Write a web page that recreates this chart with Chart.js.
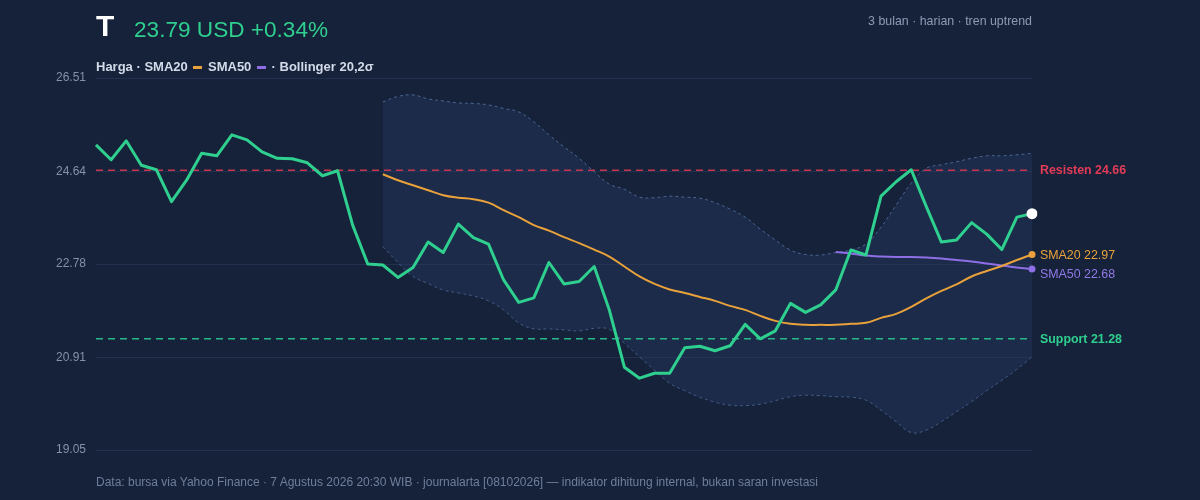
<!DOCTYPE html>
<html>
<head>
<meta charset="utf-8">
<script src="https://cdn.jsdelivr.net/npm/chart.js@4"></script>
<style>
  html, body { margin: 0; padding: 0; background: #16223a; }
  body { width: 1200px; height: 500px; position: relative; overflow: hidden;
         font-family: "Liberation Sans", Arial, Helvetica, sans-serif; }
  #wrap { position: absolute; left: 0; top: 0; width: 1200px; height: 500px; }
  .txt { position: absolute; white-space: nowrap; }
  #ticker { left: 96px; top: 9px; font-size: 30px; font-weight: bold; color: #ffffff; }
  #quote { left: 134px; top: 17px; font-size: 22.6px; color: #2fcf8f; }
  #meta { right: 168px; top: 14px; font-size: 12.4px; color: #8e9bb4; }
  #legend { left: 96px; top: 59px; font-size: 13px; font-weight: bold; color: #d3dbe9; }
  #legend .sw { display: inline-block; width: 9px; height: 3px; vertical-align: middle; margin: 0 2px; }
  #footer { left: 96px; top: 475px; font-size: 12px; color: #6f7f9b; }
  .side { left: 1040px; font-size: 12.4px; transform: translateY(-50%); }
</style>
</head>
<body>
<div id="wrap"><canvas id="chart" width="1200" height="500"></canvas></div>
<div class="txt" id="ticker">T</div>
<div class="txt" id="quote">23.79 USD +0.34%</div>
<div class="txt" id="meta">3 bulan · harian · tren uptrend</div>
<div class="txt" id="legend">Harga · SMA20 <span class="sw" style="background:#e9a23b"></span> SMA50 <span class="sw" style="background:#8e6fe6"></span> · Bollinger 20,2σ</div>
<div class="txt" id="footer">Data: bursa via Yahoo Finance · 7 Agustus 2026 20:30 WIB · journalarta [08102026] — indikator dihitung internal, bukan saran investasi</div>
<div class="txt side" id="lblRes" style="color:#e23b57;font-weight:bold">Resisten 24.66</div>
<div class="txt side" id="lblS20" style="color:#e9a23b">SMA20 22.97</div>
<div class="txt side" id="lblS50" style="color:#9179e8">SMA50 22.68</div>
<div class="txt side" id="lblSup" style="color:#2fcf8f;font-weight:bold">Support 21.28</div>
<script>
// harga penutupan harian (63 hari)
const price = [
  25.17, 24.87, 25.25, 24.76, 24.67, 24.03, 24.46, 25.00, 24.95, 25.37,
  25.27, 25.03, 24.90, 24.89, 24.81, 24.55, 24.65, 23.56, 22.78, 22.76,
  22.51, 22.71, 23.22, 23.01, 23.58, 23.31, 23.18, 22.46, 22.01, 22.10,
  22.81, 22.38, 22.43, 22.73, 21.86, 20.71, 20.49, 20.59, 20.59, 21.10,
  21.13, 21.04, 21.14, 21.57, 21.28, 21.44, 21.99, 21.81, 21.96, 22.26,
  23.06, 22.96, 24.14, 24.43, 24.67, 23.93, 23.22, 23.26, 23.61, 23.38,
  23.07, 23.72, 23.79
];
// SMA20 mulai hari ke-20
const sma20Vals = [
  24.58, 24.46, 24.36, 24.26, 24.16, 24.11, 24.08, 24.01, 23.86, 23.72,
  23.56, 23.45, 23.32, 23.20, 23.07, 22.93, 22.73, 22.53, 22.38, 22.27,
  22.20, 22.12, 22.04, 21.94, 21.86, 21.74, 21.64, 21.58, 21.56, 21.56,
  21.56, 21.58, 21.60, 21.70, 21.78, 21.92, 22.09, 22.24, 22.37, 22.53,
  22.64, 22.74, 22.86, 22.97
];
// SMA50 mulai hari ke-50
const sma50Vals = [
  23.02, 22.99, 22.95, 22.93, 22.92, 22.92, 22.91, 22.89, 22.86, 22.83,
  22.79, 22.75, 22.71, 22.68
];
// Bollinger 20,2σ
const bbUpperVals = [
  26.03, 26.14, 26.17, 26.09, 26.05, 26.01, 26.00, 25.97, 25.90, 25.83,
  25.63, 25.37, 25.13, 24.90, 24.63, 24.38, 24.28, 24.12, 24.11, 24.14,
  24.12, 24.10, 24.01, 23.88, 23.72, 23.48, 23.26, 23.06, 22.97, 22.96,
  23.01, 23.06, 23.18, 23.52, 23.96, 24.40, 24.70, 24.77, 24.83, 24.90,
  24.95, 24.95, 24.97, 25.00
];
const bbLowerVals = [
  23.13, 22.81, 22.53, 22.39, 22.26, 22.20, 22.14, 22.04, 21.86, 21.60,
  21.48, 21.48, 21.46, 21.44, 21.49, 21.47, 21.19, 20.92, 20.65, 20.39,
  20.24, 20.11, 20.01, 19.95, 19.94, 19.97, 20.04, 20.12, 20.15, 20.14,
  20.12, 20.11, 20.05, 19.85, 19.62, 19.40, 19.45, 19.62, 19.82, 20.02,
  20.24, 20.45, 20.67, 20.92
];
const yTicks = [19.05, 20.91, 22.78, 24.64, 26.51];
const resistance = 24.66;
const support = 21.28;

const days = price.map((_, i) => i + 1);
const pad = (vals) => Array(price.length - vals.length).fill(null).concat(vals);
const sma20 = pad(sma20Vals);
const sma50 = pad(sma50Vals);
const bbUpper = pad(bbUpperVals);
const bbLower = pad(bbLowerVals);
const last = price.length - 1;

const levelLines = {
  id: 'levelLines',
  // drawn right after the band so the fill sits below and the price on top
  afterDatasetDraw(chart, args) {
    if (args.index !== 3) return;
    const { ctx, chartArea, scales } = chart;
    const drawLevel = (v, color) => {
      const y = scales.y.getPixelForValue(v);
      ctx.save();
      ctx.strokeStyle = color;
      ctx.lineWidth = 1.5;
      ctx.setLineDash([7, 5]);
      ctx.beginPath();
      ctx.moveTo(chartArea.left, y);
      ctx.lineTo(chartArea.right, y);
      ctx.stroke();
      ctx.restore();
    };
    drawLevel(resistance, '#c8344f');
    drawLevel(support, '#27b889');
  },
  afterDraw(chart) {
    const y = chart.scales.y;
    const place = (id, top) => { document.getElementById(id).style.top = top + 'px'; };
    const y20 = y.getPixelForValue(sma20[last]);
    const y50 = Math.max(y.getPixelForValue(sma50[last]), y20 + 19);
    place('lblRes', y.getPixelForValue(resistance));
    place('lblS20', y20);
    place('lblS50', y50);
    place('lblSup', y.getPixelForValue(support));
  }
};

const endDot = (r) => (ctx) => ctx.dataIndex === last ? r : 0;

new Chart(document.getElementById('chart'), {
  type: 'line',
  data: {
    labels: days,
    datasets: [
      {
        label: 'Harga', data: price, borderColor: '#2fcf8f', borderWidth: 3,
        tension: 0, pointRadius: endDot(5.5), pointBackgroundColor: '#ffffff',
        pointBorderWidth: 0, borderJoinStyle: 'round', order: 0
      },
      {
        label: 'SMA20', data: sma20, borderColor: '#e9a23b', borderWidth: 2,
        tension: 0.4, pointRadius: endDot(3.5), pointBackgroundColor: '#e9a23b',
        pointBorderWidth: 0, order: 1
      },
      {
        label: 'SMA50', data: sma50, borderColor: '#8e6fe6', borderWidth: 2,
        tension: 0.4, pointRadius: endDot(3.5), pointBackgroundColor: '#8e6fe6',
        pointBorderWidth: 0, order: 2
      },
      {
        label: 'BB atas', data: bbUpper, borderColor: 'rgba(88,116,168,0.8)', borderWidth: 1,
        borderDash: [3, 3], tension: 0.4, pointRadius: 0, fill: '+1',
        backgroundColor: 'rgba(38,58,98,0.38)', order: 3
      },
      {
        label: 'BB bawah', data: bbLower, borderColor: 'rgba(88,116,168,0.8)', borderWidth: 1,
        borderDash: [3, 3], tension: 0.4, pointRadius: 0, fill: false, order: 4
      }
    ]
  },
  options: {
    responsive: false,
    animation: false,
    layout: { padding: { left: 0, right: 168, top: 78, bottom: 50 } },
    plugins: { legend: { display: false }, tooltip: { enabled: false } },
    scales: {
      x: { display: false },
      y: {
        min: 19.05, max: 26.51,
        afterBuildTicks: (scale) => { scale.ticks = yTicks.map(v => ({ value: v })); },
        afterFit: (scale) => { scale.width = 96; },
        border: { display: false },
        grid: { color: '#233150', lineWidth: 1, drawTicks: false },
        ticks: {
          color: '#8391aa', padding: 10,
          font: { family: '"Liberation Sans", Arial, sans-serif', size: 12 },
          callback: (v) => v.toFixed(2)
        }
      }
    }
  },
  plugins: [levelLines]
});
</script>
</body>
</html>
